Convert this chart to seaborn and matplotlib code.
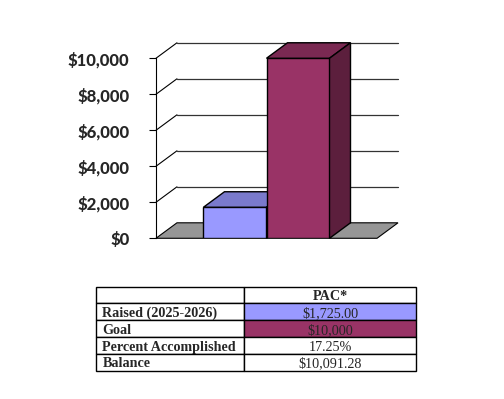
import numpy as np
import pandas as pd
import matplotlib
matplotlib.use("Agg")
import matplotlib.pyplot as plt
from matplotlib.patches import Polygon
from matplotlib.ticker import FuncFormatter
import seaborn as sns

# du lieu
categories = ["Raised (2025-2026)", "Goal"]
amounts = [1725, 10000]
bar_colors = ["#9999ff", "#993366"]
top_colors = ["#7a7acc", "#7a2952"]
side_colors = ["#5c5c99", "#5c1f3d"]

y_ticks = [0, 2000, 4000, 6000, 8000, 10000]

table_header = "PAC*"
row_labels = ["Raised (2025-2026)", "Goal", "Percent Accomplished", "Balance"]
row_values = ["$1,725.00", "$10,000", "17.25%", "$10,091.28"]
row_fills = ["#9999ff", "#993366", "white", "white"]

# hieu ung 3D
depth_x = 0.333      # theo don vi cot
depth_y = 860        # theo don vi gia tri
floor_pad = 1.254

sns.set_style("white")
plt.rcParams["font.family"] = ["Lato", "DejaVu Sans"]

fig = plt.figure(figsize=(5.04, 3.99), dpi=100)
ax = fig.add_axes([0.3095, 0.4028, 0.4802, 0.4927])

df = pd.DataFrame({"cat": categories, "amount": amounts})
sns.barplot(data=df, x="cat", y="amount", hue="cat", palette=bar_colors,
            saturation=1, width=1, edgecolor="black", linewidth=1,
            legend=False, ax=ax, zorder=5)

x_left = -floor_pad
x_right = len(categories) - 1 + floor_pad
ax.set_xlim(x_left, x_right + depth_x)
ax.set_ylim(0, y_ticks[-1] + depth_y + 60)

# san xam
floor = Polygon([(x_left, 0), (x_right, 0), (x_right + depth_x, depth_y),
                 (x_left + depth_x, depth_y)], closed=True,
                facecolor="#969696", edgecolor="black", linewidth=0.8,
                zorder=2, clip_on=False)
ax.add_patch(floor)

# luoi tuong sau
for v in y_ticks[1:]:
    ax.plot([x_left, x_left + depth_x], [v, v + depth_y], color="black",
            lw=0.8, zorder=1, clip_on=False)
    ax.plot([x_left + depth_x, x_right + depth_x], [v + depth_y, v + depth_y],
            color="#333333", lw=0.9, zorder=1, clip_on=False)

# mat tren va mat ben cua cot
for i, bar in enumerate(ax.patches[:len(categories)]):
    x0 = bar.get_x()
    w = bar.get_width()
    h = bar.get_height()
    top = Polygon([(x0, h), (x0 + w, h), (x0 + w + depth_x, h + depth_y),
                   (x0 + depth_x, h + depth_y)], closed=True,
                  facecolor=top_colors[i], edgecolor="black", linewidth=1,
                  zorder=5 + i, clip_on=False)
    side = Polygon([(x0 + w, 0), (x0 + w + depth_x, depth_y),
                    (x0 + w + depth_x, h + depth_y), (x0 + w, h)], closed=True,
                   facecolor=side_colors[i], edgecolor="black", linewidth=1,
                   zorder=5 + i, clip_on=False)
    bar.set_zorder(5 + i)
    ax.add_patch(top)
    ax.add_patch(side)

ax.set_xlabel("")
ax.set_ylabel("")
ax.set_xticks([])
ax.set_yticks(y_ticks)
ax.yaxis.set_major_formatter(FuncFormatter(lambda v, p: f"${v:,.0f}"))
ax.tick_params(axis="y", left=True, length=5, width=0.8, color="black",
               pad=14, labelsize=12)
for lab in ax.get_yticklabels():
    lab.set_fontweight("black")
for s in ["top", "right", "bottom"]:
    ax.spines[s].set_visible(False)
ax.spines["left"].set_bounds(0, y_ticks[-1])
ax.spines["left"].set_color("black")
ax.spines["left"].set_linewidth(0.8)
ax.patch.set_alpha(0)

# bang
tax = fig.add_axes([0.19, 0.0709, 0.6355, 0.2106])
tax.axis("off")
cell_text = [["", table_header]] + [[l, v] for l, v in zip(row_labels, row_values)]
cell_colors = [["white", "white"]] + [["white", c] for c in row_fills]
tbl = tax.table(cellText=cell_text, cellColours=cell_colors,
                colWidths=[0.464, 0.536], bbox=[0, 0, 1, 1])
tbl.auto_set_font_size(False)
for (r, c), cell in tbl.get_celld().items():
    cell.set_linewidth(1)
    cell.set_edgecolor("black")
    txt = cell.get_text()
    txt.set_fontfamily(["Liberation Serif", "DejaVu Serif"])
    txt.set_fontsize(10.2)
    txt.set_va("center_baseline")
    if c == 0:
        cell.PAD = 0.045
        txt.set_ha("left")
        txt.set_fontweight("bold")
    else:
        txt.set_ha("center")
        if r == 0:
            txt.set_fontweight("bold")

fig.savefig("out.png", dpi=100)
